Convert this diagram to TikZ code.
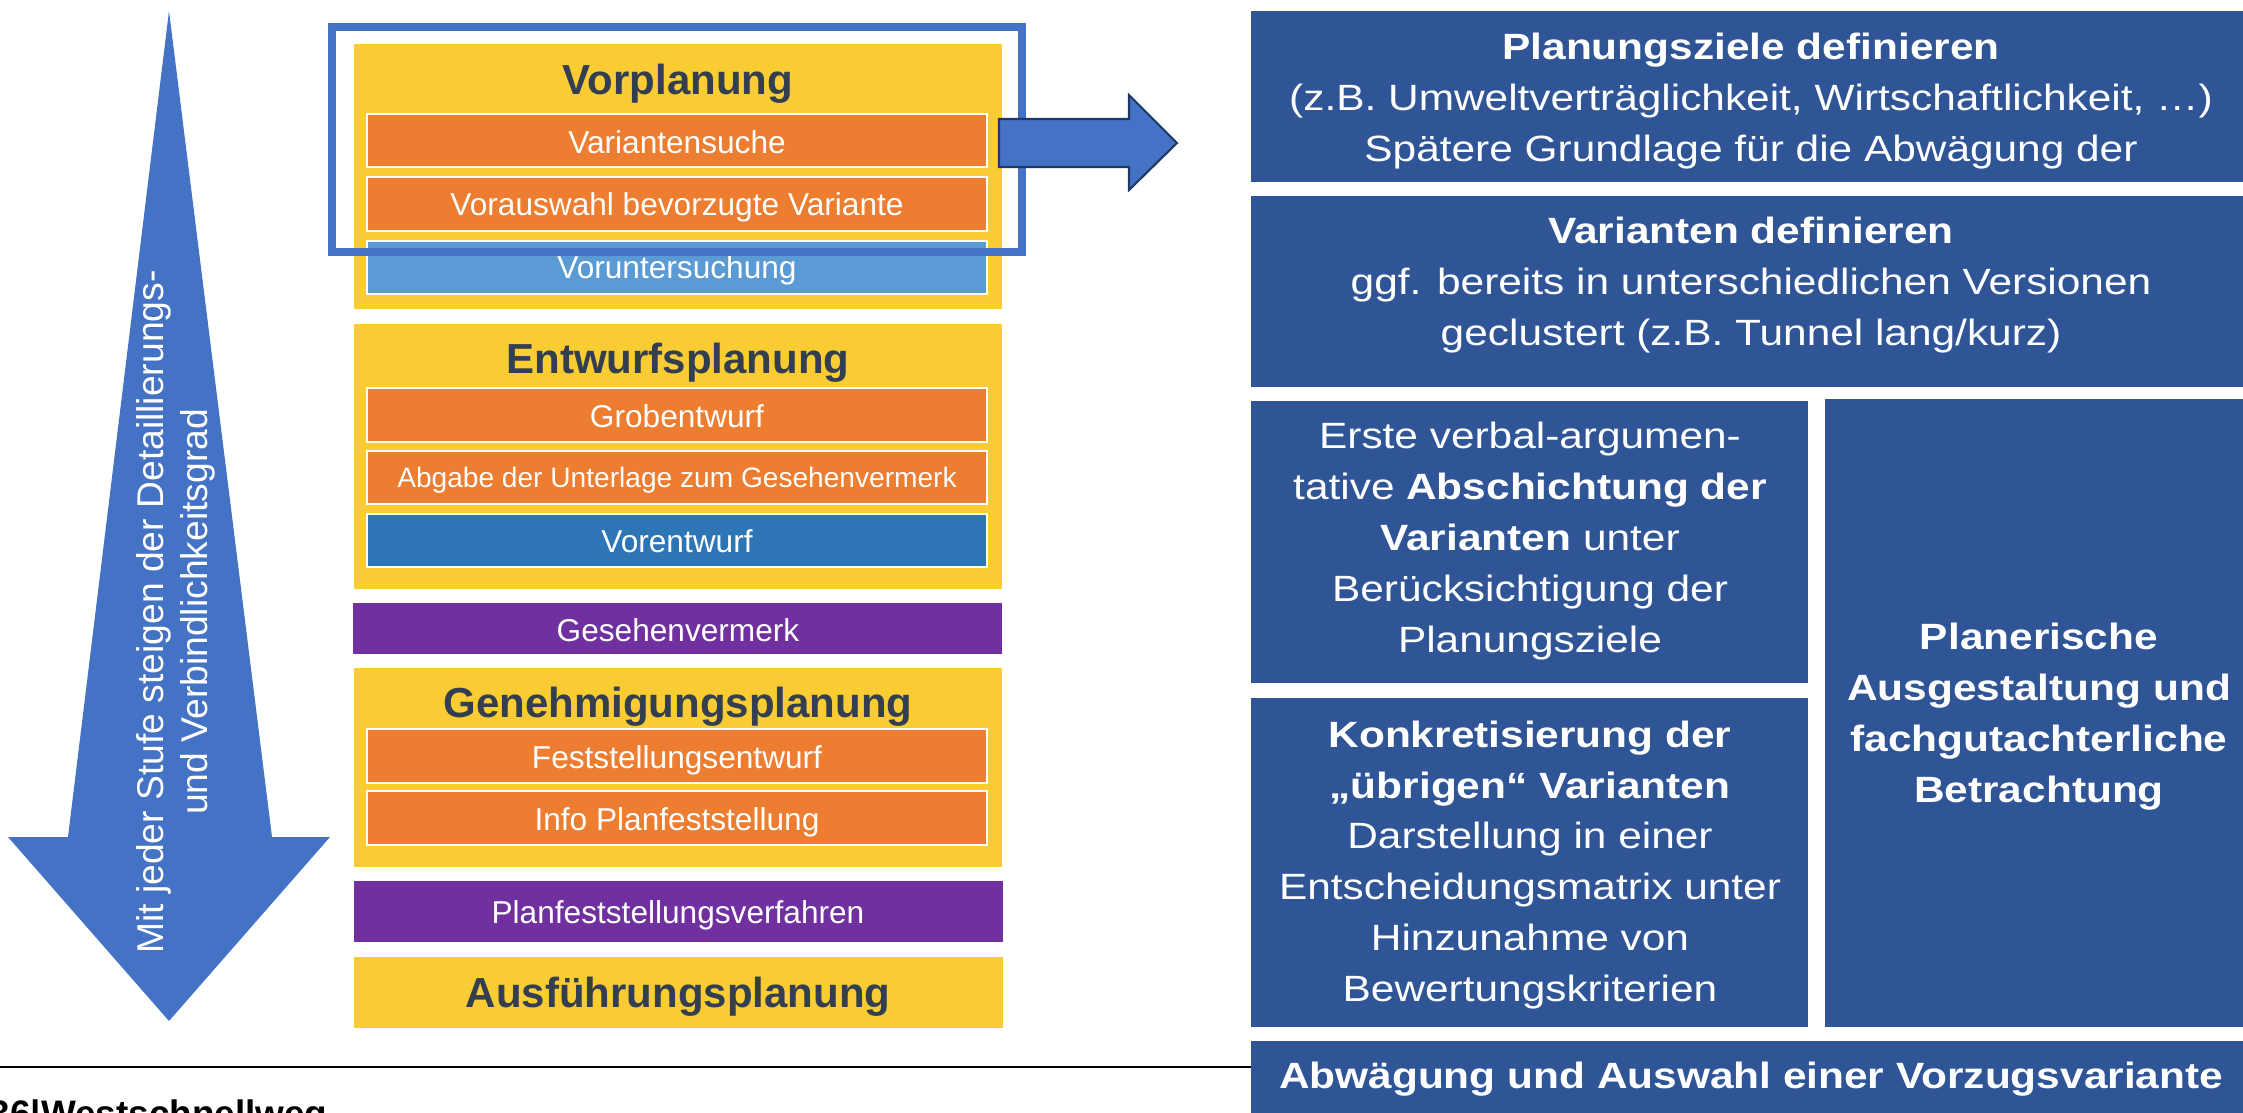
\documentclass[tikz,border=0pt]{standalone}
\usepackage{fontspec}
\setmainfont{Liberation Sans}
\newfontfamily\widesans[FakeStretch=1.16]{Liberation Sans}
\usepackage{tikz}

\definecolor{phaseyellow}{RGB}{248,204,50}
\definecolor{steporange}{RGB}{237,125,49}
\definecolor{stepsky}{RGB}{91,155,213}
\definecolor{stepblue}{RGB}{46,117,182}
\definecolor{milepurple}{RGB}{112,48,160}
\definecolor{titleslate}{RGB}{51,63,80}
\definecolor{panelblue}{RGB}{47,85,151}
\definecolor{arrowblue}{RGB}{68,114,196}
\definecolor{arrowedge}{RGB}{31,56,100}

\tikzset{
  phase/.style={fill=phaseyellow},
  phasetitle/.style={anchor=base, inner sep=0pt, text=titleslate, font=\bfseries\fontsize{11.95}{14}\selectfont},
  stepbox/.style={draw=white, line width=0.7pt},
  steptext/.style={anchor=base, inner sep=0pt, text=white, font=\fontsize{9}{11}\selectfont},
  panel/.style={fill=panelblue},
  paneltext/.style={align=center, inner sep=0pt, text=white, font=\widesans\fontsize{10.4}{14.5}\selectfont}
}

\begin{document}
\begin{tikzpicture}[x=0.1mm, y=-0.1mm]
		\useasboundingbox (0,0) rectangle (2243,1113);
		
		% Funnel arrow
		\fill[arrowblue] (169,11) -- (272,837) -- (330,837) -- (169,1021) -- (8,837) -- (68,837) -- cycle;
		\node[rotate=90, align=center, inner sep=0pt, text=white, font=\fontsize{10.6}{12.5}\selectfont] (grad) at (176,612) {Mit jeder Stufe steigen der Detaillierungs-\\und Verbindlichkeitsgrad};
		
		% Vorplanung
		\fill[phase] (354,44) rectangle (1002,309);
		\node[phasetitle] (vor) at (678,94) {Vorplanung};
		\path[stepbox, fill=steporange] (367,114) rectangle (987,167);
		\node[steptext] (vor1) at (677,153) {Variantensuche};
		\path[stepbox, fill=steporange] (367,177) rectangle (987,231);
		\node[steptext] (vor2) at (677,215) {Vorauswahl bevorzugte Variante};
		\path[stepbox, fill=stepsky] (367,241) rectangle (987,294);
		\node[steptext] (vor3) at (677,278) {Voruntersuchung};
		
		% Entwurfsplanung
		\fill[phase] (354,324) rectangle (1002,589);
		\node[phasetitle] (ent) at (678,373) {Entwurfsplanung};
		\path[stepbox, fill=steporange] (367,388) rectangle (987,442);
		\node[steptext] (ent1) at (677,427) {Grobentwurf};
		\path[stepbox, fill=steporange] (367,451) rectangle (987,504);
		\node[steptext, font=\fontsize{8}{10}\selectfont] (ent2) at (677,487) {Abgabe der Unterlage zum Gesehenvermerk};
		\path[stepbox, fill=stepblue] (367,514) rectangle (987,567);
		\node[steptext] (ent3) at (677,552) {Vorentwurf};
		
		\fill[milepurple] (353,603) rectangle (1002,654);
		\node[steptext] (gvm) at (678,641) {Gesehenvermerk};
		
		% Genehmigungsplanung
		\fill[phase] (354,668) rectangle (1002,867);
		\node[phasetitle] (gen) at (678,717) {Genehmigungsplanung};
		\path[stepbox, fill=steporange] (367,729) rectangle (987,783);
		\node[steptext] (gen1) at (677,768) {Feststellungsentwurf};
		\path[stepbox, fill=steporange] (367,791) rectangle (987,845);
		\node[steptext] (gen2) at (677,830) {Info Planfeststellung};
		
		\fill[milepurple] (354,881) rectangle (1003,942);
		\node[steptext] (pfv) at (678,923) {Planfeststellungsverfahren};
		
		% Ausfuehrungsplanung
		\fill[phase] (354,957) rectangle (1003,1028);
		\node[phasetitle] (aus) at (678,1007) {Ausführungsplanung};
		
		% Highlight and arrow to the right
		\draw[arrowblue, line width=2.28pt] (332,27) rectangle (1022,252);
		\draw[fill=arrowblue, draw=arrowedge, line width=0.6pt, line join=miter] (999,119) -- (1129,119) -- (1129,95) -- (1177,143) -- (1129,190) -- (1129,167) -- (999,167) -- cycle;
		
		% Right panels
		\fill[panel] (1251,11) rectangle (2252,182);
		\node[paneltext] (ziele) at (1751,101) {\textbf{Planungsziele definieren}\\(z.B. Umweltverträglichkeit, Wirtschaftlichkeit, …)\\Spätere Grundlage für die Abwägung der};
		\fill[panel] (1251,196) rectangle (2252,387);
		\node[paneltext] (var) at (1751,285) {\textbf{Varianten definieren}\\ggf. bereits in unterschiedlichen Versionen\\geclustert (z.B. Tunnel lang/kurz)};
		\fill[panel] (1251,401) rectangle (1808,683);
		\node[paneltext] (absch) at (1530,541) {Erste verbal-argumen-\\tative \textbf{Abschichtung der}\\\textbf{Varianten} unter\\Berücksichtigung der\\Planungsziele};
		\fill[panel] (1251,698) rectangle (1808,1027);
		\node[paneltext] (konkr) at (1530,865) {\textbf{Konkretisierung der}\\\textbf{„übrigen“ Varianten}\\Darstellung in einer\\Entscheidungsmatrix unter\\Hinzunahme von\\Bewertungskriterien};
		\fill[panel] (1825,399) rectangle (2252,1027);
		\node[paneltext, font=\widesans\bfseries\fontsize{10.4}{14.5}\selectfont] (plan) at (2039,717) {Planerische\\Ausgestaltung und\\fachgutachterliche\\Betrachtung};
		\fill[panel] (1251,1041) rectangle (2252,1120);
		\node[paneltext, anchor=base, font=\widesans\bfseries\fontsize{10.4}{14.5}\selectfont] (wahl) at (1751,1088) {Abwägung und Auswahl einer Vorzugsvariante};
		
		% Footer
		\draw[black, line width=0.8pt] (0,1067) -- (1251,1067);
		\node[anchor=base west, inner sep=0pt, font=\bfseries\fontsize{10.5}{12}\selectfont] (foot) at (-11,1126) {36|Westschnellweg};
	\end{tikzpicture}
\end{document}
